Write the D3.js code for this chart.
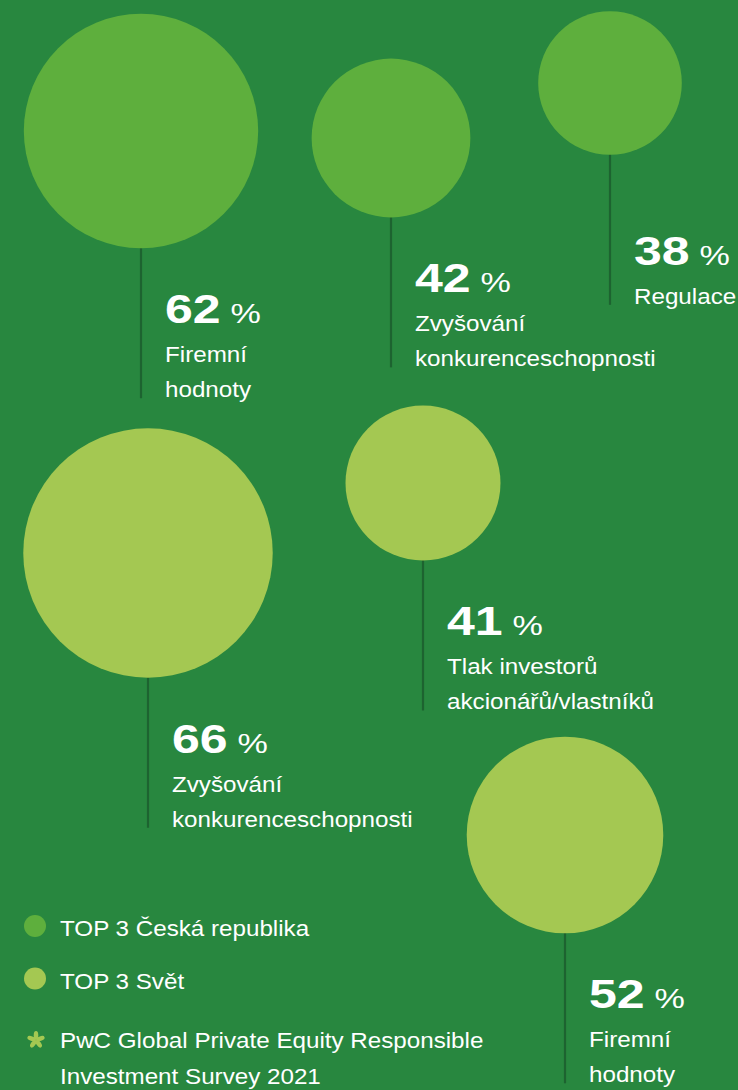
<!DOCTYPE html>
<html lang="cs">
<head>
<meta charset="utf-8">
<script src="https://cdn.jsdelivr.net/npm/d3@7"></script>
<style>
  html, body { margin: 0; padding: 0; background: #28873f; }
  svg { display: block; }
  text { font-family: "Liberation Sans", Arial, Helvetica, sans-serif; fill: #ffffff; }
</style>
</head>
<body>
<svg id="chart" width="738" height="1090"></svg>
<script>
// Top 3 drivers — Czech Republic
const czLabels = [["Firemní", "hodnoty"], ["Zvyšování", "konkurenceschopnosti"], ["Regulace"]];
const czValues = [62, 42, 38];

// Top 3 drivers — world
const worldLabels = [["Zvyšování", "konkurenceschopnosti"], ["Tlak investorů", "akcionářů/vlastníků"], ["Firemní", "hodnoty"]];
const worldValues = [66, 41, 52];

// Legend and source note
const legendLabels = ["TOP 3 Česká republika", "TOP 3 Svět"];
const sourceLines = ["PwC Global Private Equity Responsible", "Investment Survey 2021"];

// Placement of each bubble (centre x, centre y)
const czPos = [[141, 131], [391, 138], [610, 83]];
const worldPos = [[148, 553], [423, 483], [565, 835]];

const colors = { bg: "#28873f", cz: "#5eaf3d", world: "#a4c852", stem: "#1d6330" };

const svg = d3.select("#chart");
svg.append("rect").attr("width", 738).attr("height", 1090).attr("fill", colors.bg);

// bubble radius grows linearly with the percentage
const rScale = d3.scaleLinear().domain([0, 100]).range([0, 189]);

const STEM = 150;       // stem length below the bubble
const LINE_GAP = 35;    // description line spacing
const NUM_GAP = 39;     // number baseline above first description line
const SX = 1.1;         // horizontal stretch of body text
const SX_NUM = 1.22;    // horizontal stretch of big numbers

const items = [];
czValues.forEach((v, i) => items.push({ v, lines: czLabels[i], pos: czPos[i], color: colors.cz }));
worldValues.forEach((v, i) => items.push({ v, lines: worldLabels[i], pos: worldPos[i], color: colors.world }));

const g = svg.selectAll("g.bubble").data(items).join("g").attr("class", "bubble");

// stems
g.append("line")
  .attr("x1", d => d.pos[0]).attr("x2", d => d.pos[0])
  .attr("y1", d => d.pos[1])
  .attr("y2", d => d.pos[1] + rScale(d.v) + STEM)
  .attr("stroke", colors.stem).attr("stroke-width", 2.2);

// bubbles
g.append("circle")
  .attr("cx", d => d.pos[0]).attr("cy", d => d.pos[1])
  .attr("r", d => rScale(d.v))
  .attr("fill", d => d.color);

// labels
g.each(function(d) {
  const sel = d3.select(this);
  const x = d.pos[0] + 24;
  const end = d.pos[1] + rScale(d.v) + STEM;
  const lastBase = end - 1;
  const firstBase = lastBase - (d.lines.length - 1) * LINE_GAP;
  const numBase = firstBase - NUM_GAP;

  const num = sel.append("g").attr("transform", `translate(${x},${numBase}) scale(${SX_NUM},1)`);
  const t = num.append("text");
  t.append("tspan").attr("font-size", 41).attr("font-weight", 700).text(d.v);
  t.append("tspan").attr("font-size", 28).attr("font-weight", 400).attr("dx", 8).text("%");

  d.lines.forEach((ln, k) => {
    sel.append("g").attr("transform", `translate(${x},${firstBase + k * LINE_GAP}) scale(${SX},1)`)
      .append("text").attr("font-size", 22).text(ln);
  });
});

// legend
const legendColors = [colors.cz, colors.world];
const lg = svg.append("g").attr("class", "legend");
legendLabels.forEach((lab, i) => {
  const y = 926 + i * 52.5;
  lg.append("circle").attr("cx", 35).attr("cy", y).attr("r", 11).attr("fill", legendColors[i]);
  lg.append("g").attr("transform", `translate(60,${y + 10}) scale(${SX},1)`)
    .append("text").attr("font-size", 22).text(lab);
});

// source note with flower mark
const flower = lg.append("g").attr("transform", "translate(36,1040)");
d3.range(5).forEach(k => {
  flower.append("ellipse")
    .attr("cx", 0).attr("cy", -4.6).attr("rx", 2.3).attr("ry", 4.4)
    .attr("transform", `rotate(${k * 72})`)
    .attr("fill", colors.world);
});
sourceLines.forEach((ln, i) => {
  lg.append("g").attr("transform", `translate(60,${1048 + i * 36}) scale(${SX},1)`)
    .append("text").attr("font-size", 22).text(ln);
});
</script>
</body>
</html>
